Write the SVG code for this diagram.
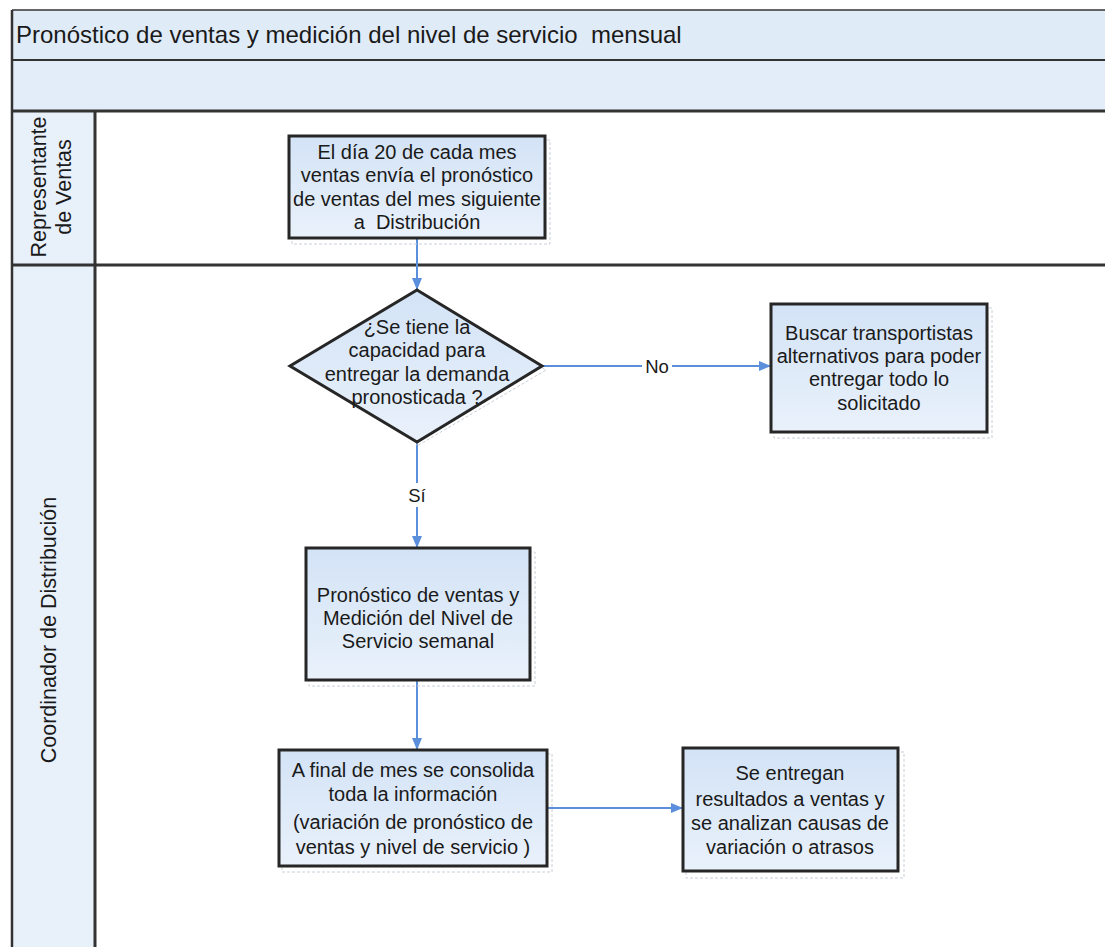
<svg xmlns="http://www.w3.org/2000/svg" width="1105" height="947" viewBox="0 0 1105 947">
<defs>
<linearGradient id="boxfill" x1="0" y1="0" x2="0" y2="1">
<stop offset="0" stop-color="#d3e3f6"/>
<stop offset="1" stop-color="#e9f1fb"/>
</linearGradient>
<marker id="arr" markerWidth="12" markerHeight="12" refX="11" refY="6" orient="auto" markerUnits="userSpaceOnUse">
<path d="M0,1 L12,6 L0,11 Z" fill="#5b8fdc"/>
</marker>
</defs>
<style>
.t{font-family:"Liberation Sans",Arial,sans-serif;fill:#1a1a1a;text-anchor:middle;white-space:pre}
.box{fill:url(#boxfill);stroke:#262626;stroke-width:3}
.shadow{fill:none;stroke:#c8cfd8;stroke-width:1;stroke-dasharray:3 2}
.conn{fill:none;stroke:#5b8fdc;stroke-width:2}
.lane{stroke:#333;fill:none}
</style>
<rect width="1105" height="947" fill="#ffffff"/>
<g id="pool">
<rect x="12" y="10" width="1100" height="50" fill="#e0ebf8"/>
<rect x="12" y="60" width="1100" height="51" fill="#e3edf9"/>
<rect x="12" y="111" width="83" height="836" fill="#e8f0fa"/>
<path class="lane" d="M12,10 H1105" stroke-width="1.5"/>
<path class="lane" d="M12,10 V947" stroke-width="2.5"/>
<path class="lane" d="M12,60 H1105" stroke-width="2" stroke="#555"/>
<path class="lane" d="M12,111 H1105" stroke-width="3"/>
<path class="lane" d="M95,111 V947" stroke-width="3"/>
<path class="lane" d="M12,265 H1105" stroke-width="3"/>
<text class="t" x="16" y="43" font-size="24" style="text-anchor:start">Pronóstico de ventas y medición del nivel de servicio  mensual</text>
</g>
<g id="lane-representante">
<text class="t" font-size="21.5" transform="translate(46,187) rotate(-90)">Representante</text>
<text class="t" font-size="21.5" transform="translate(71,187) rotate(-90)">de Ventas</text>
</g>
<g id="lane-coordinador">
<text class="t" font-size="21.5" transform="translate(56,630) rotate(-90)">Coordinador de Distribución</text>
</g>
<g id="connectors">
<path class="conn" d="M417,238 V289" marker-end="url(#arr)"/>
<path class="conn" d="M542,366 H770" marker-end="url(#arr)"/>
<rect x="642" y="355" width="30" height="22" fill="#ffffff"/>
<text class="t" x="657" y="373" font-size="18.5">No</text>
<path class="conn" d="M417,442 V547" marker-end="url(#arr)"/>
<rect x="404" y="483" width="26" height="24" fill="#ffffff"/>
<text class="t" x="417" y="502" font-size="18.5">Sí</text>
<path class="conn" d="M417,680 V749" marker-end="url(#arr)"/>
<path class="conn" d="M547,808 H682" marker-end="url(#arr)"/>
</g>
<g id="n1">
<rect class="shadow" x="292" y="140" width="258" height="104"/>
<rect class="box" x="289" y="136" width="256" height="102"/>
<text class="t" font-size="20"><tspan x="417" y="159">El día 20 de cada mes</tspan><tspan x="417" y="182">ventas envía el pronóstico</tspan><tspan x="417" y="206">de ventas del mes siguiente</tspan><tspan x="417" y="229">a  Distribución</tspan></text>
</g>
<g id="n2">
<path class="shadow" d="M417,294 L546,370 L417,446 Z"/>
<path class="box" d="M417,290 L542,366 L417,442 L290,366 Z"/>
<text class="t" font-size="20"><tspan x="417" y="334">¿Se tiene la</tspan><tspan x="417" y="357">capacidad para</tspan><tspan x="417" y="381">entregar la demanda</tspan><tspan x="417" y="404">pronosticada ?</tspan></text>
</g>
<g id="n3">
<rect class="shadow" x="774" y="308" width="218" height="130"/>
<rect class="box" x="771" y="304" width="216" height="128"/>
<text class="t" font-size="20"><tspan x="879" y="340">Buscar transportistas</tspan><tspan x="879" y="363">alternativos para poder</tspan><tspan x="879" y="386">entregar todo lo</tspan><tspan x="879" y="410">solicitado</tspan></text>
</g>
<g id="n4">
<rect class="shadow" x="309" y="552" width="226" height="134"/>
<rect class="box" x="306" y="548" width="224" height="132"/>
<text class="t" font-size="20"><tspan x="418" y="602">Pronóstico de ventas y</tspan><tspan x="418" y="625">Medición del Nivel de</tspan><tspan x="418" y="648">Servicio semanal</tspan></text>
</g>
<g id="n5">
<rect class="shadow" x="282" y="754" width="270" height="118"/>
<rect class="box" x="279" y="750" width="268" height="116"/>
<text class="t" font-size="20"><tspan x="413" y="777">A final de mes se consolida</tspan><tspan x="413" y="801">toda la información</tspan><tspan x="413" y="829">(variación de pronóstico de</tspan><tspan x="413" y="854">ventas y nivel de servicio )</tspan></text>
</g>
<g id="n6">
<rect class="shadow" x="686" y="752" width="218" height="126"/>
<rect class="box" x="683" y="748" width="215" height="123"/>
<text class="t" font-size="20"><tspan x="790" y="780">Se entregan</tspan><tspan x="790" y="806">resultados a ventas y</tspan><tspan x="790" y="830">se analizan causas de</tspan><tspan x="790" y="854">variación o atrasos</tspan></text>
</g>
</svg>
